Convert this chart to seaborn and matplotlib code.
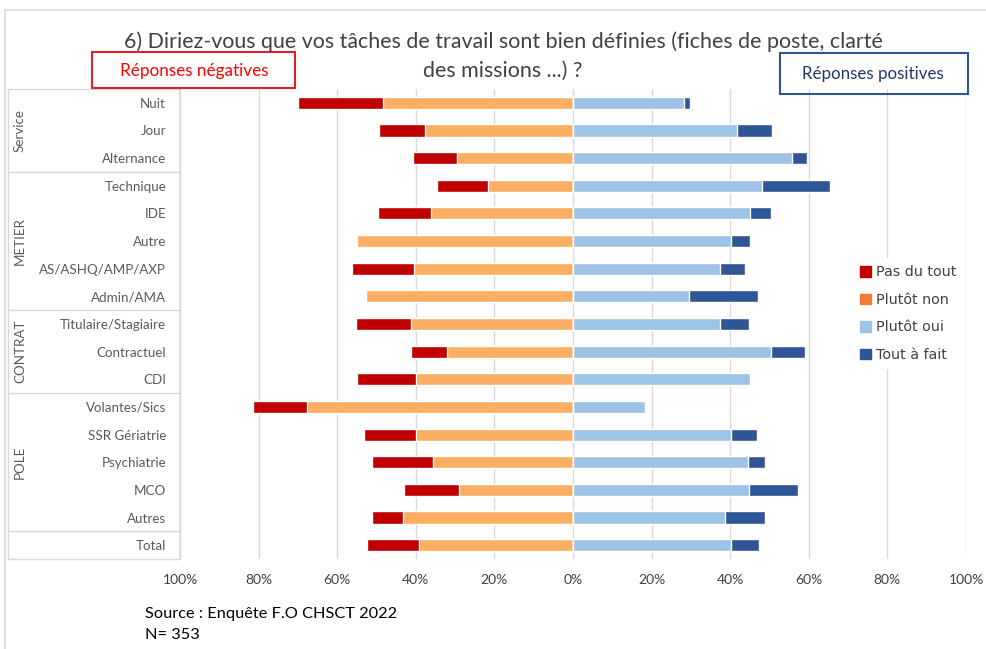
import pandas as pd
import numpy as np
import matplotlib.pyplot as plt
import matplotlib.patches as mpatches
import matplotlib.transforms as mtransforms
import seaborn as sns

# valeurs (en %)
categories = ['Nuit', 'Jour', 'Alternance',
              'Technique', 'IDE', 'Autre', 'AS/ASHQ/AMP/AXP', 'Admin/AMA',
              'Titulaire/Stagiaire', 'Contractuel', 'CDI',
              'Volantes/Sics', 'SSR Gériatrie', 'Psychiatrie', 'MCO', 'Autres',
              'Total']
groups = ['Service', 'METIER', 'CONTRAT', 'POLE']
group_sizes = [3, 5, 3, 5]

pas_du_tout = [21.7, 11.6, 11.3, 13.1, 13.6, 0.0, 15.9, 0.0,
               14.2, 9.0, 15.0, 13.6, 13.2, 15.7, 13.8, 7.9, 13.4]
plutot_non = [48.3, 37.7, 29.4, 21.6, 36.1, 54.9, 40.4, 52.7,
              41.1, 32.1, 39.9, 67.8, 40.0, 35.5, 29.1, 43.3, 39.1]
plutot_oui = [28.2, 41.8, 55.7, 48.0, 45.0, 40.2, 37.5, 29.6,
              37.5, 50.3, 45.1, 18.4, 40.3, 44.5, 44.7, 38.7, 40.3]
tout_a_fait = [1.5, 8.9, 3.8, 17.5, 5.3, 4.9, 6.2, 17.6,
               7.2, 8.8, 0.0, 0.0, 6.5, 4.4, 12.5, 10.1, 7.1]

ticks = [-100, -80, -60, -40, -20, 0, 20, 40, 60, 80, 100]

df = pd.DataFrame({
    'cat': categories,
    'neg_total': -(np.array(pas_du_tout) + np.array(plutot_non)),
    'neg_non': -np.array(plutot_non),
    'pos_total': np.array(plutot_oui) + np.array(tout_a_fait),
    'pos_oui': np.array(plutot_oui),
})

sns.set_theme(style='white')
plt.rcParams['font.family'] = ['Lato', 'DejaVu Sans']

grey_txt = '#595959'
c_red, c_orange, c_lblue, c_dblue = '#C00000', '#FCAE62', '#9DC3E6', '#2F5597'

fig = plt.figure(figsize=(9.86, 6.49), dpi=100)
ax = fig.add_axes([180 / 986, 1 - 559 / 649, 786 / 986, 470 / 649])

bw = 0.44
sns.barplot(data=df, x='neg_total', y='cat', order=categories, color=c_red,
            orient='h', width=bw, saturation=1, errorbar=None, ax=ax)
sns.barplot(data=df, x='neg_non', y='cat', order=categories, color=c_orange,
            orient='h', width=bw, saturation=1, errorbar=None, ax=ax)
sns.barplot(data=df, x='pos_total', y='cat', order=categories, color=c_dblue,
            orient='h', width=bw, saturation=1, errorbar=None, ax=ax)
sns.barplot(data=df, x='pos_oui', y='cat', order=categories, color=c_lblue,
            orient='h', width=bw, saturation=1, errorbar=None, ax=ax)

ax.set_xlim(-100, 100)
ax.set_ylim(len(categories) - 0.5, -0.5)
ax.set_xticks(ticks)
ax.set_xticklabels([f'{abs(t)}%' for t in ticks], fontsize=10, color='#404040')
ax.set_xlabel('')
ax.set_ylabel('')
ax.tick_params(axis='x', length=0, pad=11)
ax.tick_params(axis='y', length=0, pad=10, labelsize=9.6, labelcolor=grey_txt)
ax.grid(axis='x', color='#D9D9D9', linewidth=1)
ax.set_axisbelow(True)
for s in ['top', 'right', 'bottom']:
    ax.spines[s].set_visible(False)
ax.spines['left'].set_color('#D9D9D9')

# tableau des groupes à gauche
trans = mtransforms.blended_transform_factory(ax.transAxes, ax.transData)
x_left = (8 - 180) / 786
bounds = np.concatenate([[0], np.cumsum(group_sizes), [len(categories)]]) - 0.5
for b in bounds:
    ax.plot([x_left, 0], [b, b], color='#D9D9D9', lw=1, transform=trans, clip_on=False)
ax.plot([x_left, x_left], [bounds[0], bounds[-1]], color='#D9D9D9', lw=1,
        transform=trans, clip_on=False)
for g, lo, hi in zip(groups, bounds[:-2], bounds[1:-1]):
    ax.text((20 - 180) / 786, (lo + hi) / 2, g, rotation=90, ha='center', va='center',
            fontsize=9.6, color=grey_txt, transform=trans)

# cadre extérieur
fig.add_artist(plt.Line2D([5 / 986, 1], [1 - 10 / 649, 1 - 10 / 649], color='#D9D9D9', lw=1.2))
fig.add_artist(plt.Line2D([5 / 986, 5 / 986], [0, 1 - 10 / 649], color='#D9D9D9', lw=1.2))

# titre
fig.text(503 / 986, 1 - 42 / 649, "6) Diriez-vous que vos tâches de travail sont bien définies (fiches de poste, clarté",
         ha='center', va='center', fontsize=15.4, color='#404040')
fig.text(503 / 986, 1 - 71 / 649, "des missions ...) ?",
         ha='center', va='center', fontsize=15.4, color='#404040')

# encadrés
fig.add_artist(mpatches.Rectangle((92 / 986, 1 - 88 / 649), 203 / 986, 36 / 649,
                                  fill=False, edgecolor='#E0202A', lw=1.5))
fig.text(194 / 986, 1 - 71 / 649, 'Réponses négatives', ha='center', va='center',
         fontsize=12.3, color='#FF0000')
fig.add_artist(mpatches.Rectangle((780 / 986, 1 - 94 / 649), 188 / 986, 41 / 649,
                                  fill=False, edgecolor='#2F5597', lw=1.5))
fig.text(873 / 986, 1 - 74 / 649, 'Réponses positives', ha='center', va='center',
         fontsize=12.2, color='#1F3864')

# légende
handles = [mpatches.Patch(color=c_red, label='Pas du tout'),
           mpatches.Patch(color='#ED7D31', label='Plutôt non'),
           mpatches.Patch(color=c_lblue, label='Plutôt oui'),
           mpatches.Patch(color=c_dblue, label='Tout à fait')]
leg = fig.legend(handles=handles, loc='upper left', bbox_to_anchor=(846 / 986, 1 - 251 / 649),
                 frameon=True, facecolor='white', edgecolor='none', framealpha=1,
                 prop={'family': 'DejaVu Sans', 'size': 10.3},
                 handlelength=0.75, handleheight=0.75, handletextpad=0.35,
                 labelspacing=0.95, borderpad=0.5, fancybox=False)
for t in leg.get_texts():
    t.set_color('#404040')

# source
fig.text(145 / 986, 1 - 614 / 649, 'Source : Enquête F.O CHSCT 2022', ha='left', va='center',
         fontsize=11.8, color='black')
fig.text(145 / 986, 1 - 635 / 649, 'N= 353', ha='left', va='center',
         fontsize=11.8, color='black')

fig.savefig('out.png', dpi=100, facecolor='white')
